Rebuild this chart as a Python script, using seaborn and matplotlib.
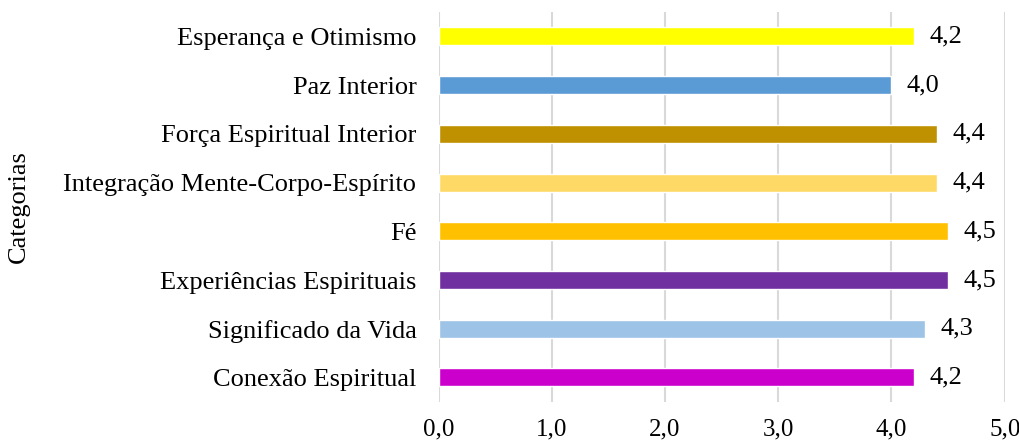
"""
Horizontal bar chart - categorias
"""

import matplotlib
matplotlib.use("Agg")
import matplotlib.pyplot as plt
import seaborn as sns
import pandas as pd

categorias = ["Esperança e Otimismo", "Paz Interior", "Força Espiritual Interior",
              "Integração Mente-Corpo-Espírito", "Fé", "Experiências Espirituais",
              "Significado da Vida", "Conexão Espiritual"]
medias = [4.2, 4.0, 4.4, 4.4, 4.5, 4.5, 4.3, 4.2]
cores = ["#FFFF00", "#5B9BD5", "#BF9000", "#FFD966", "#FFC000", "#7030A0", "#9DC3E6", "#CC00CC"]
xticks = [0, 1, 2, 3, 4, 5]

sns.set_style("white")
plt.rcParams["font.family"] = ["Liberation Serif", "DejaVu Serif"]
plt.rcParams["text.color"] = "black"
plt.rcParams["xtick.color"] = "black"
plt.rcParams["ytick.color"] = "black"
plt.rcParams["axes.labelcolor"] = "black"

df = pd.DataFrame({"Categoria": categorias, "Media": medias})

fig = plt.figure(figsize=(10.2, 4.46), dpi=100)
ax = fig.add_axes([0.430, 0.099, 0.555, 0.874])
sns.barplot(data=df, y="Categoria", x="Media", hue="Categoria", palette=cores,
            orient="h", width=0.37, legend=False, ax=ax, saturation=1)

for c in ax.containers:
    ax.bar_label(c, labels=[f"{v:.1f}".replace(".", ",") for v in c.datavalues],
                 padding=11, fontsize=19, color="black")

ax.set_xlim(0, 5)
ax.set_ylim(7.5, -0.5)
ax.set_xticks(xticks)
ax.set_xticklabels([f"{v:.1f}".replace(".", ",") for v in xticks], fontsize=18)
ax.tick_params(axis="y", labelsize=19, pad=16, length=0)
ax.tick_params(axis="x", pad=12, length=0)
ax.xaxis.grid(True, color="#D9D9D9", linewidth=1.5)
ax.set_axisbelow(True)
for s in ax.spines.values():
    s.set_visible(False)
ax.set_xlabel("")
ax.set_ylabel("Categorias", fontsize=19)
ax.yaxis.set_label_coords(-0.722, 0.5)

plt.savefig("out.png", dpi=100)
